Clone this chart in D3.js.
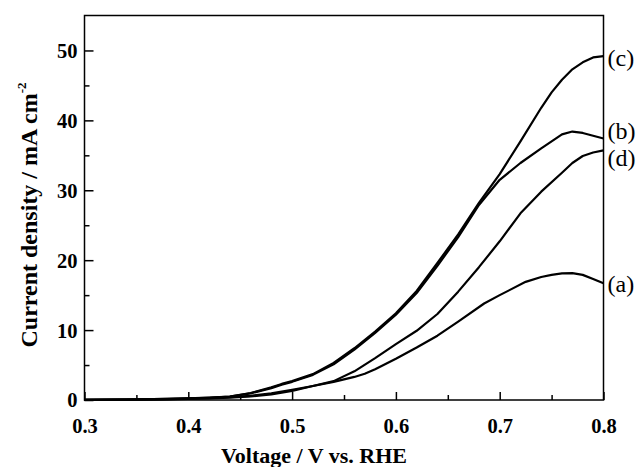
<!DOCTYPE html>
<html><head><meta charset="utf-8">
<script src="https://cdn.jsdelivr.net/npm/d3@7"></script>
<style>body{margin:0;background:#fff}svg{display:block}</style>
</head><body>
<svg id="chart" width="641" height="467"></svg>
<script>
const voltA = [0.30,0.34,0.38,0.40,0.42,0.44,0.46,0.48,0.50,0.52,0.54,0.56,0.57,0.58,0.60,0.62,0.64,0.66,0.685,0.70,0.725,0.74,0.75,0.76,0.77,0.78,0.79,0.80];
const seriesA = [0.02,0.05,0.10,0.15,0.22,0.32,0.50,0.80,1.30,2.00,2.60,3.30,3.75,4.40,5.90,7.50,9.20,11.2,13.8,15.0,16.9,17.6,17.9,18.1,18.15,17.9,17.3,16.7];
const voltB = [0.30,0.34,0.38,0.40,0.42,0.44,0.46,0.48,0.49,0.50,0.52,0.54,0.56,0.58,0.60,0.62,0.64,0.66,0.68,0.70,0.72,0.74,0.76,0.77,0.78,0.79,0.80];
const seriesB = [0.02,0.06,0.15,0.22,0.32,0.48,0.95,1.70,2.20,2.60,3.60,5.10,7.20,9.60,12.2,15.3,19.2,23.3,27.9,31.5,33.9,36.0,38.0,38.4,38.2,37.8,37.4];
const voltC = [0.30,0.34,0.38,0.40,0.42,0.44,0.46,0.48,0.49,0.50,0.52,0.54,0.56,0.58,0.60,0.62,0.64,0.66,0.68,0.70,0.72,0.74,0.75,0.76,0.77,0.78,0.79,0.80];
const seriesC = [0.02,0.06,0.16,0.25,0.35,0.50,1.00,1.80,2.30,2.70,3.70,5.30,7.40,9.80,12.4,15.6,19.6,23.7,28.2,32.3,37.0,41.8,44.0,45.8,47.3,48.3,49.0,49.2];
const voltD = [0.30,0.34,0.38,0.40,0.42,0.44,0.46,0.48,0.50,0.52,0.54,0.56,0.58,0.60,0.62,0.64,0.66,0.68,0.70,0.72,0.74,0.76,0.77,0.78,0.79,0.80];
const seriesD = [0.02,0.05,0.12,0.18,0.27,0.40,0.60,0.95,1.45,2.00,2.70,4.10,6.00,8.00,9.90,12.3,15.5,19.0,22.7,26.7,29.8,32.5,33.9,34.9,35.4,35.7];
const seriesLabels = ["(a)","(b)","(c)","(d)"];
const xTicks = [0.3,0.4,0.5,0.6,0.7,0.8];
const xMinor = [0.35,0.45,0.55,0.65,0.75];
const yTicks = [0,10,20,30,40,50];
const yMinor = [5,15,25,35,45];
const xTitle = "Voltage / V vs. RHE";
const yTitle = "Current density / mA cm";
const yTitleSup = "-2";

const svg = d3.select("#chart");
const L = 84.5, R = 603.5, T = 15.5, B = 400;
const x = d3.scaleLinear().domain([0.3,0.8]).range([L,R]);
const y = d3.scaleLinear().domain([0,55]).range([B,T]);
const font = "'Liberation Serif','Times New Roman',serif";

const series = [
  {v: voltA, j: seriesA, label: seriesLabels[0], dy: 0},
  {v: voltB, j: seriesB, label: seriesLabels[1], dy: -8},
  {v: voltC, j: seriesC, label: seriesLabels[2], dy: 2},
  {v: voltD, j: seriesD, label: seriesLabels[3], dy: 7}
];
const line = d3.line().x(d=>x(d[0])).y(d=>y(d[1]));
series.forEach(s=>{
  svg.append("path").datum(s.v.map((v,i)=>[v,s.j[i]]))
    .attr("d", line).attr("fill","none").attr("stroke","#000")
    .attr("stroke-width",2.2).attr("stroke-linejoin","round");
});

// frame
svg.append("rect").attr("x",L).attr("y",T).attr("width",R-L).attr("height",B-T)
  .attr("fill","none").attr("stroke","#000").attr("stroke-width",1.5);

// axes
const xAxis = svg.append("g").attr("transform",`translate(0,${B})`)
  .call(d3.axisBottom(x).tickValues(xTicks).tickSizeInner(-8).tickSizeOuter(0).tickPadding(18).tickFormat(d3.format(".1f")));
const xAxisMin = svg.append("g").attr("transform",`translate(0,${B})`)
  .call(d3.axisBottom(x).tickValues(xMinor).tickSizeInner(-5).tickSizeOuter(0).tickFormat(""));
const yAxis = svg.append("g").attr("transform",`translate(${L},0)`)
  .call(d3.axisLeft(y).tickValues(yTicks).tickSizeInner(-9).tickSizeOuter(0).tickPadding(7));
const yAxisMin = svg.append("g").attr("transform",`translate(${L},0)`)
  .call(d3.axisLeft(y).tickValues(yMinor).tickSizeInner(-5).tickSizeOuter(0).tickFormat(""));
[xAxis,xAxisMin,yAxis,yAxisMin].forEach(g=>{
  g.select(".domain").remove();
  g.selectAll("line").attr("stroke","#000").attr("stroke-width",1.5);
  g.selectAll("text").attr("font-family",font).attr("font-weight","bold")
    .attr("font-size",20.5).attr("fill","#000");
});
yAxis.selectAll("text").attr("dy","0.34em");

// axis titles
svg.append("text").attr("x",314).attr("y",463).attr("text-anchor","middle")
  .attr("font-family",font).attr("font-weight","bold").attr("font-size",22).text(xTitle);
const yt = svg.append("text").attr("transform",`translate(37,215) rotate(-90)`)
  .attr("text-anchor","middle").attr("font-family",font).attr("font-weight","bold").attr("font-size",24);
yt.append("tspan").text(yTitle);
yt.append("tspan").attr("dy",-11).attr("font-size",13).text(yTitleSup);

// series labels at right end
series.forEach(s=>{
  const last = s.j[s.j.length-1];
  svg.append("text").attr("x",R+4).attr("y",y(last)+s.dy).attr("dy","0.35em")
    .attr("font-family",font).attr("font-size",24).attr("fill","#000").text(s.label);
});
</script>
</body></html>
